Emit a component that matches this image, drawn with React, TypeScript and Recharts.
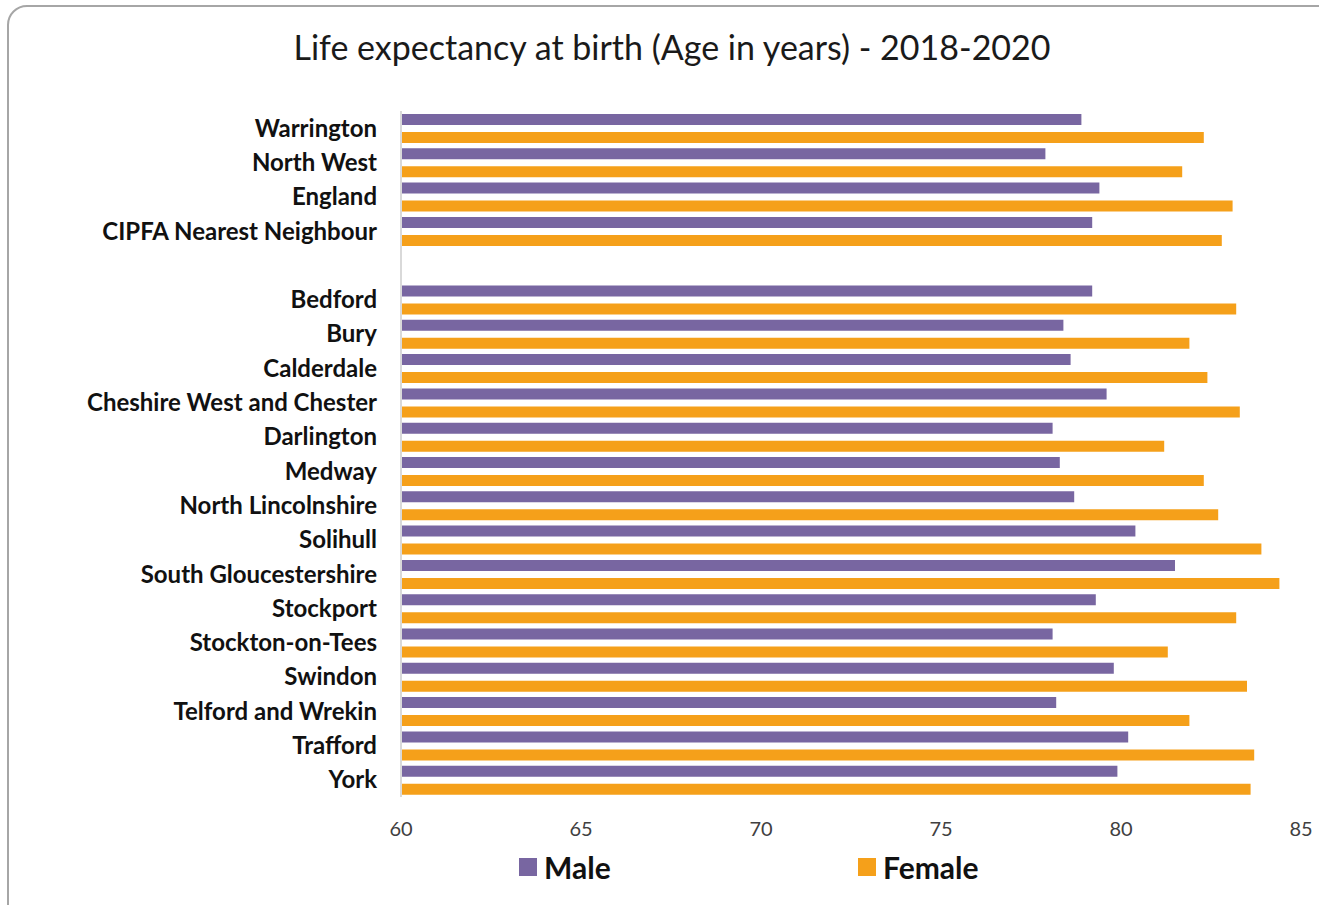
import { BarChart, Bar, XAxis, YAxis } from "recharts";

const areas = [
  "Warrington",
  "North West",
  "England",
  "CIPFA Nearest Neighbour",
  "",
  "Bedford",
  "Bury",
  "Calderdale",
  "Cheshire West and Chester",
  "Darlington",
  "Medway",
  "North Lincolnshire",
  "Solihull",
  "South Gloucestershire",
  "Stockport",
  "Stockton-on-Tees",
  "Swindon",
  "Telford and Wrekin",
  "Trafford",
  "York",
];

const male = [78.9, 77.9, 79.4, 79.2, null, 79.2, 78.4, 78.6, 79.6, 78.1, 78.3, 78.7, 80.4, 81.5, 79.3, 78.1, 79.8, 78.2, 80.2, 79.9];
const female = [82.3, 81.7, 83.1, 82.8, null, 83.2, 81.9, 82.4, 83.3, 81.2, 82.3, 82.7, 83.9, 84.4, 83.2, 81.3, 83.5, 81.9, 83.7, 83.6];

const xTicks = [60, 65, 70, 75, 80, 85];

const series = [
  { key: "male", name: "Male", color: "#7866a1" },
  { key: "female", name: "Female", color: "#f5a01a" },
];

const data = areas.map((name, i) => ({ name, male: male[i], female: female[i] }));

const font = "Lato, 'Open Sans', sans-serif";

export default function App() {
  return (
    <div style={{ position: "fixed", left: 0, top: 0, width: 1319, height: 905, overflow: "hidden", background: "#fff", fontFamily: font }}>
      <div
        style={{
          position: "absolute",
          left: 7,
          top: 5,
          width: 1340,
          height: 920,
          border: "2px solid #a6a6a6",
          borderRadius: 20,
          boxSizing: "border-box",
        }}
      />
      <div style={{ position: "absolute", left: 0, top: 26, width: 1344, textAlign: "center", fontSize: 34, color: "#1a1a1a" }}>
        Life expectancy at birth (Age in years) - 2018-2020
      </div>
      <div style={{ position: "absolute", left: 0, top: 0 }}>
        <BarChart
          width={1319}
          height={905}
          data={data}
          layout="vertical"
          margin={{ top: 111, right: 18, bottom: 68, left: 0 }}
          barSize={11}
          barGap={7}
        >
          <XAxis
            type="number"
            domain={[60, 85]}
            ticks={xTicks}
            allowDataOverflow
            axisLine={false}
            tickLine={false}
            tickSize={0}
            tickMargin={25}
            height={40}
            tick={{ fill: "#404040", fontSize: 20, fontFamily: font }}
          />
          <YAxis
            type="category"
            dataKey="name"
            width={401}
            interval={0}
            axisLine={{ stroke: "#d9d9d9", strokeWidth: 2 }}
            tickLine={false}
            tickSize={0}
            tickMargin={24}
            tick={{ fill: "#111", fontSize: 24, fontWeight: 700, fontFamily: font }}
          />
          {series.map((s) => (
            <Bar key={s.key} dataKey={s.key} name={s.name} fill={s.color} isAnimationActive={false} />
          ))}
        </BarChart>
      </div>
      {series.map((s, i) => (
        <div
          key={s.key}
          style={{
            position: "absolute",
            left: i === 0 ? 519 : 858,
            top: 849,
            display: "flex",
            alignItems: "center",
            fontSize: 30,
            fontWeight: 700,
            color: "#111",
          }}
        >
          <span style={{ display: "inline-block", width: 18, height: 18, background: s.color, marginRight: 7 }} />
          {s.name}
        </div>
      ))}
    </div>
  );
}
